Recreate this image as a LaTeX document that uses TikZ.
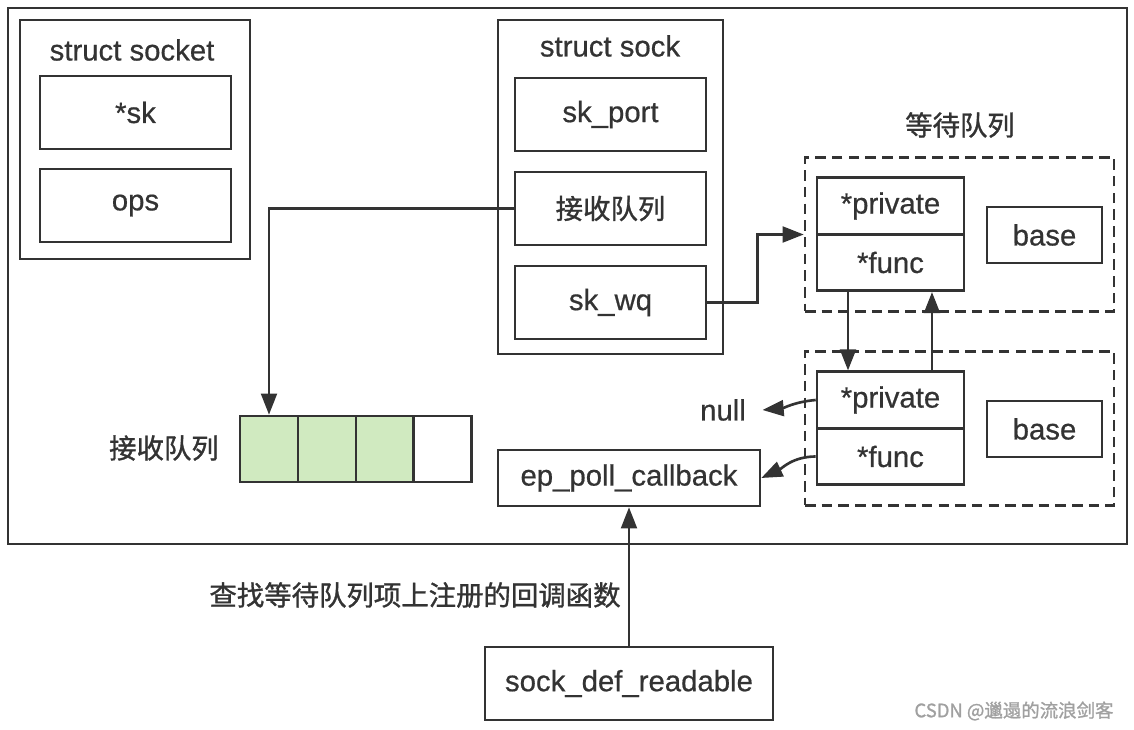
\documentclass[tikz,border=0pt]{standalone}
\usepackage{fontspec}
\setmainfont{Liberation Sans}[FakeBold=0.6]
\newfontfamily\cjk{Noto Sans CJK SC}[FakeBold=1.2]
\usetikzlibrary{arrows.meta}

\definecolor{ink}{RGB}{51,51,51}
\definecolor{queuegreen}{RGB}{208,234,192}
\definecolor{markgray}{RGB}{160,160,160}

\begin{document}
\begin{tikzpicture}[%
    x=0.02cm, y=-0.02cm,
    every node/.style={
      font=\fontsize{16.7}{19}\selectfont,
      text=ink
    },
    frame/.style={
      draw=ink,
      line width=1.3pt
    },
    block/.style={
      rectangle,
      draw=ink,
      line width=1.5pt,
      inner sep=0pt
    },
    field/.style={
      block,
      minimum width=3.82cm,
      minimum height=1.46cm
    },
    slot/.style={
      block,
      minimum width=2.94cm,
      minimum height=1.13cm
    },
    basebox/.style={
      block,
      minimum width=2.3cm,
      minimum height=1.12cm
    },
    waitbox/.style={
      rectangle,
      draw=ink,
      line width=1.5pt,
      dash pattern=on 6pt off 3.5pt,
      minimum width=6.18cm,
      minimum height=3.08cm,
      inner sep=0pt
    },
    cell/.style={
      block,
      minimum width=1.155cm,
      minimum height=1.32cm
    },
    zh/.style={
      font=\cjk\fontsize{15.6}{19}\selectfont
    },
    line/.style={
      draw=ink,
      line width=1.5pt,
      -{Triangle[length=12pt,width=9pt]}
    }
  ]
    \useasboundingbox (0,0) rectangle (1134,730);

    % outer frame
    \draw[frame] (8,8) rectangle (1127,544);

    % struct socket
    \node[block, minimum width=4.6cm, minimum height=4.78cm] (socket) at (135,139.5) {};
    \node (socket title) at (132,50) {struct socket};
    \node[field] (sk) at (135.5,112.5) {*sk};
    \node[field] (ops) at (135.5,205.5) {ops};

    % struct sock
    \node[block, minimum width=4.5cm, minimum height=6.68cm] (sock) at (610.5,187) {};
    \node (sock title) at (610,46) {struct sock};
    \node[field] (port) at (610.5,114.5) {sk\_port};
    \node[field, zh] (rq) at (610.5,208.5) {接收队列};
    \node[field] (wq) at (610.5,302.5) {sk\_wq};

    % wait queue entries
    \node[zh] (wait title) at (960,125) {等待队列};
    \node[waitbox] (wait1) at (959.5,234.5) {};
    \node[slot] (priv1) at (890.5,206) {*private};
    \node[slot] (func1) at (890.5,262.5) {*func};
    \node[basebox] (base1) at (1044.5,235) {base};

    \node[waitbox] (wait2) at (959.5,428.5) {};
    \node[slot] (priv2) at (890.5,400) {*private};
    \node[slot] (func2) at (890.5,456.5) {*func};
    \node[basebox] (base2) at (1044.5,429) {base};

    % receive queue
    \node[zh] (queue title) at (164,448) {接收队列};
    \foreach \i/\x/\c in {1/269/queuegreen, 2/327/queuegreen, 3/385/queuegreen, 4/442.5/white}
      \node[cell, fill=\c] (q\i) at (\x,449) {};

    \node (null) at (723,410) {null};
    \node[block, minimum width=5.24cm, minimum height=1.12cm] (ep) at (629,478) {ep\_poll\_callback};
    \node[block, minimum width=5.76cm, minimum height=1.46cm] (readable) at (629,683.5) {sock\_def\_readable};
    \node[zh] (lookup) at (415,595) {查找等待队列项上注册的回调函数};

    \node[font=\cjk\fontsize{10.5}{12}\selectfont, text=markgray] (mark) at (1014,711) {CSDN @邋遢的流浪剑客};

    % connectors
    \draw[line] (rq.west) -| (q1.north);
    \draw[line] (wq.east) -- ++(50,0) |- (wait1.west);
    \draw[line] ([xshift=-0.85cm]func1.south) -- ([xshift=-0.85cm]priv2.north);
    \draw[line] ([xshift=0.83cm]priv2.north) -- ([xshift=0.83cm]func1.south);
    \draw[line] (priv2.west) to[out=185,in=5] ([xshift=6]null.east);
    \draw[line] (func2.west) to[out=180,in=25] (ep.east);
    \draw[line] (readable.north) -- (ep.south);
  \end{tikzpicture}
\end{document}
